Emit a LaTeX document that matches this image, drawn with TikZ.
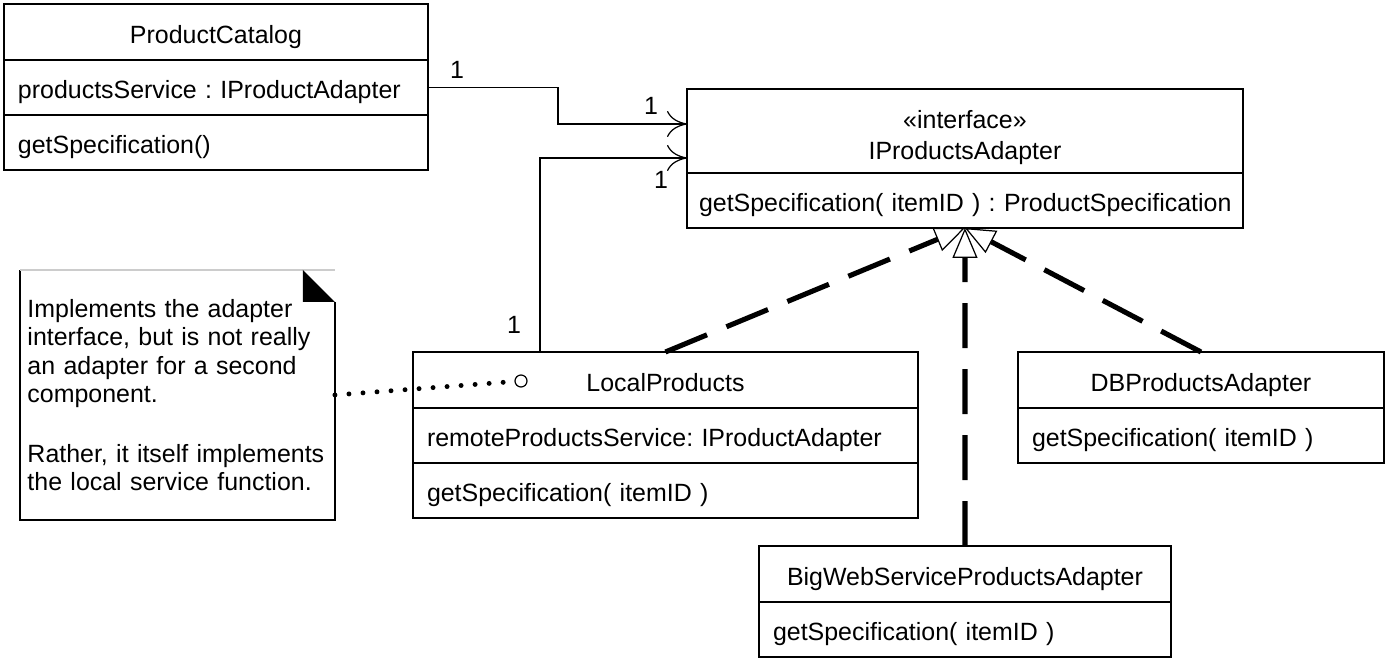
\documentclass[tikz,border=0pt]{standalone}
\usepackage{fontspec}
\setmainfont{Liberation Sans}
\usetikzlibrary{positioning,arrows.meta}
\frenchspacing
\hyphenpenalty=10000
\exhyphenpenalty=10000

\begin{document}
\begin{tikzpicture}[x=0.02cm, y=-0.02cm, line width=0.7pt, font=\fontsize{14.2}{16.2}\selectfont]
  \tikzstyle{box}=[rectangle, draw, inner sep=0pt, outer sep=0pt, align=center]
  \tikzstyle{head}=[box, minimum height=1.12cm, text height=0.5cm, text depth=0.04cm]
  \tikzstyle{part}=[rectangle, draw, minimum height=1.1cm, inner xsep=0.28cm, inner ysep=0pt, outer sep=0pt, text height=0.5cm, text depth=0.04cm, align=left]
  \tikzstyle{assoc}=[-{Computer Modern Rightarrow[length=0.4cm, width=0.52cm]}]
  \tikzstyle{realize}=[line width=2.9pt, dash pattern=on 0.9cm off 0.42cm, -{Triangle[open, length=0.6cm, width=0.5cm, line width=0.7pt]}]
  \tikzstyle{noteline}=[line width=2.8pt, line cap=round, dash pattern=on 0pt off 8pt]
  \useasboundingbox (0,0) rectangle (1388,661);
  \node[head, minimum width=8.48cm, anchor=north west] (pchead) at (4,4) {ProductCatalog};
  \node[part, text width=7.92cm, below=0pt of pchead] (pcattr) {productsService : IProductAdapter};
  \node[part, text width=7.92cm, below=0pt of pcattr] (pcmeth) {getSpecification()};
  \node[box, minimum width=11.12cm, minimum height=1.68cm, anchor=north west] (ipahead) at (687,89) {\rule{0pt}{0.63cm}«interface»\\[0.05cm]IProductsAdapter};
  \node[part, inner xsep=0.24cm, text width=10.64cm, below=0pt of ipahead] (ipameth) {\mbox{getSpecification( itemID ) : ProductSpecification}};
  \node[head, minimum width=10.1cm, anchor=north west] (lphead) at (413,352) {LocalProducts};
  \node[part, text width=9.54cm, below=0pt of lphead] (lpattr) {remoteProductsService: IProductAdapter};
  \node[part, text width=9.54cm, below=0pt of lpattr] (lpmeth) {getSpecification( itemID )};
  \node[head, minimum width=7.32cm, anchor=north west] (dbhead) at (1018,352) {DBProductsAdapter};
  \node[part, text width=6.76cm, below=0pt of dbhead] (dbmeth) {getSpecification( itemID )};
  \node[head, minimum width=8.24cm, anchor=north west] (bwhead) at (759,546) {BigWebServiceProductsAdapter};
  \node[part, text width=7.68cm, below=0pt of bwhead] (bwmeth) {getSpecification( itemID )};
  \node[text width=6.0cm, inner xsep=0.15cm, minimum height=5cm, outer sep=0pt, align=left, anchor=north west] (note) at (20,270)
    {Implements the adapter\\interface, but is not really\\an adapter for a second\\component.\\[17.8pt]Rather, it itself implements\\the local service function.};
  \draw (note.north west) -- (note.south west) -- (note.south east) -- ([yshift=-0.64cm]note.north east);
  \draw[gray!40] (note.north west) -- (note.north east);
  \fill ([xshift=-0.64cm]note.north east) -- ([yshift=-0.64cm]note.north east) -- ([xshift=-0.64cm, yshift=-0.64cm]note.north east) -- cycle;
  \node[circle, draw, fill=white, inner sep=0pt, minimum size=0.24cm] (lpport) at (521,381) {};
  \draw[noteline] (note.east) -- (lpport);
  \draw[assoc] (pcattr.east) -- ++(130,0) |- ([yshift=0.14cm]ipahead.west);
  \draw[assoc] ([xshift=-2.51cm]lphead.north) |- ([yshift=-0.54cm]ipahead.west);
  \node (m1) at (457,70) {1};
  \node (m2) at (651,106) {1};
  \node (m3) at (661,180) {1};
  \node (m4) at (514,325) {1};
  \draw[realize] (lphead.north) -- (ipameth.south);
  \draw[realize] (bwhead.north) -- (ipameth.south);
  \draw[realize] (dbhead.north) -- (ipameth.south);
\end{tikzpicture}
\end{document}
